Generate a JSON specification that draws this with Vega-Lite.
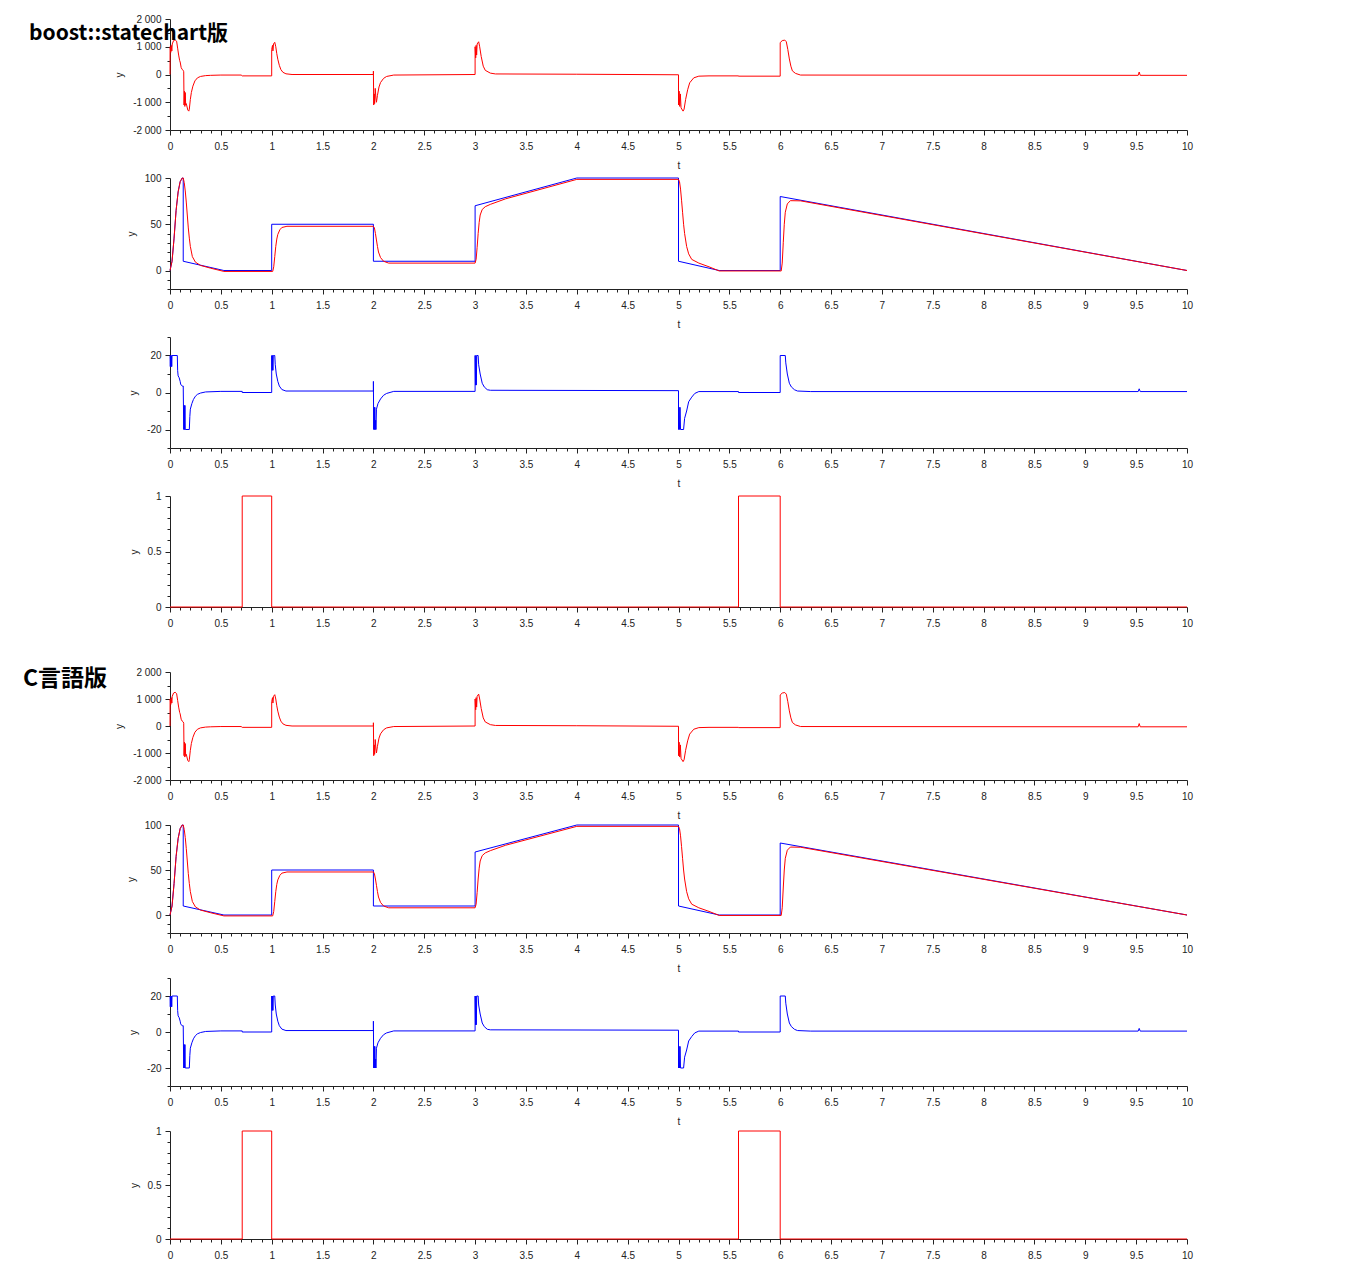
{
  "$schema": "https://vega.github.io/schema/vega-lite/v6.json",
  "padding": {"left": 23, "top": 14, "right": 5, "bottom": 5},
  "background": "white",
  "config": {
    "view": {"stroke": null},
    "axis": {"domainColor": "#222", "tickColor": "#222", "labelColor": "#222", "labelFont": "Liberation Sans", "labelFontSize": 10, "titleFont": "Liberation Sans", "titleFontSize": 10, "titleFontWeight": "normal", "titleColor": "#222", "grid": false, "labelFlush": false, "labelOverlap": false, "domainWidth": 1, "tickWidth": 1},
    "line": {"strokeWidth": 1}
  },
  "datasets": {
    "acc": [
      {"t":0,"v":0},{"t":0.001,"v":1000},{"t":0.008,"v":800},{"t":0.012,"v":1050},{"t":0.018,"v":850},{"t":0.022,"v":1100},{"t":0.035,"v":1220},{"t":0.05,"v":1250},{"t":0.065,"v":1200},{"t":0.075,"v":950},{"t":0.085,"v":700},{"t":0.095,"v":500},{"t":0.1,"v":450},{"t":0.11,"v":250},{"t":0.12,"v":180},{"t":0.13,"v":150},{"t":0.135,"v":100},{"t":0.138,"v":-1100},{"t":0.142,"v":-600},{"t":0.146,"v":-1150},{"t":0.15,"v":-650},{"t":0.154,"v":-1100},{"t":0.16,"v":-1050},{"t":0.175,"v":-1280},{"t":0.185,"v":-1320},{"t":0.19,"v":-1250},{"t":0.2,"v":-900},{"t":0.21,"v":-650},{"t":0.225,"v":-420},{"t":0.245,"v":-230},{"t":0.27,"v":-120},{"t":0.3,"v":-70},{"t":0.35,"v":-40},{"t":0.4,"v":-30},{"t":0.5,"v":-20},{"t":0.7,"v":-20},{"t":0.71,"v":-50},{"t":1.0,"v":-50},
      {"t":1.0,"v":900},{"t":1.008,"v":1050},{"t":1.012,"v":850},{"t":1.018,"v":1100},{"t":1.03,"v":1160},{"t":1.04,"v":1000},{"t":1.05,"v":750},{"t":1.06,"v":550},{"t":1.075,"v":330},{"t":1.09,"v":180},{"t":1.11,"v":80},{"t":1.14,"v":25},{"t":1.2,"v":0},{"t":2.0,"v":0},
      {"t":2.0,"v":120},{"t":2.003,"v":-1100},{"t":2.008,"v":-700},{"t":2.012,"v":-1050},{"t":2.018,"v":-500},{"t":2.025,"v":-850},{"t":2.03,"v":-1000},{"t":2.04,"v":-750},{"t":2.055,"v":-450},{"t":2.07,"v":-290},{"t":2.1,"v":-140},{"t":2.13,"v":-70},{"t":2.2,"v":-20},{"t":3.0,"v":0},
      {"t":3.0,"v":1000},{"t":3.006,"v":600},{"t":3.01,"v":1050},{"t":3.015,"v":700},{"t":3.02,"v":1100},{"t":3.035,"v":1180},{"t":3.045,"v":1000},{"t":3.06,"v":650},{"t":3.08,"v":300},{"t":3.1,"v":150},{"t":3.15,"v":50},{"t":3.2,"v":20},{"t":4.0,"v":10},{"t":5.0,"v":-10},
      {"t":5.0,"v":-1100},{"t":5.006,"v":-600},{"t":5.012,"v":-1150},{"t":5.018,"v":-700},{"t":5.025,"v":-1200},{"t":5.045,"v":-1320},{"t":5.055,"v":-1250},{"t":5.07,"v":-900},{"t":5.09,"v":-550},{"t":5.11,"v":-300},{"t":5.15,"v":-120},{"t":5.2,"v":-60},{"t":5.3,"v":-50},{"t":5.59,"v":-50},{"t":5.59,"v":-60},{"t":6.0,"v":-60},
      {"t":6.0,"v":1150},{"t":6.02,"v":1220},{"t":6.045,"v":1240},{"t":6.06,"v":1180},{"t":6.075,"v":900},{"t":6.09,"v":560},{"t":6.105,"v":300},{"t":6.12,"v":130},{"t":6.15,"v":40},{"t":6.2,"v":-20},{"t":9.52,"v":-30},{"t":9.53,"v":90},{"t":9.54,"v":-30},{"t":10,"v":-30}
    ],
    "posRef": [
      {"t":0,"v":0},{"t":0.02,"v":10},{"t":0.04,"v":35},{"t":0.06,"v":65},{"t":0.08,"v":85},{"t":0.1,"v":96},{"t":0.12,"v":100},{"t":0.13,"v":100},{"t":0.13,"v":10},{"t":0.53,"v":0},{"t":1.0,"v":0},{"t":1.0,"v":50},{"t":2.0,"v":50},{"t":2.0,"v":10},{"t":3.0,"v":10},{"t":3.0,"v":70},{"t":4.0,"v":100},{"t":5.0,"v":100},{"t":5.0,"v":10},{"t":5.4,"v":0},{"t":6.0,"v":0},{"t":6.0,"v":80},{"t":10,"v":0}
    ],
    "posAct": [
      {"t":0,"v":0},{"t":0.02,"v":10},{"t":0.04,"v":35},{"t":0.06,"v":65},{"t":0.08,"v":85},{"t":0.1,"v":96},{"t":0.12,"v":100},{"t":0.13,"v":100},{"t":0.14,"v":95},{"t":0.15,"v":86},{"t":0.16,"v":74},{"t":0.17,"v":60},{"t":0.18,"v":46},{"t":0.19,"v":35},{"t":0.2,"v":26},{"t":0.22,"v":15},{"t":0.25,"v":9},{"t":0.3,"v":5.5},{"t":0.4,"v":2.5},{"t":0.53,"v":-1},{"t":1.01,"v":-1},{"t":1.02,"v":4},{"t":1.03,"v":15},{"t":1.04,"v":26},{"t":1.05,"v":34},{"t":1.06,"v":39},{"t":1.08,"v":44},{"t":1.1,"v":46.5},{"t":1.15,"v":47.8},{"t":2.0,"v":47.8},{"t":2.01,"v":46},{"t":2.02,"v":40},{"t":2.03,"v":33},{"t":2.04,"v":26},{"t":2.05,"v":20},{"t":2.07,"v":14},{"t":2.1,"v":10},{"t":2.15,"v":8},{"t":3.0,"v":8},{"t":3.01,"v":12},{"t":3.02,"v":25},{"t":3.03,"v":40},{"t":3.04,"v":52},{"t":3.05,"v":60},{"t":3.07,"v":66},{"t":3.1,"v":69},{"t":3.15,"v":71.5},{"t":3.3,"v":77.5},{"t":4.0,"v":98.5},{"t":5.0,"v":98.5},{"t":5.01,"v":96},{"t":5.02,"v":88},{"t":5.03,"v":76},{"t":5.04,"v":63},{"t":5.05,"v":50},{"t":5.06,"v":40},{"t":5.08,"v":26},{"t":5.1,"v":18},{"t":5.13,"v":12},{"t":5.2,"v":8},{"t":5.3,"v":4},{"t":5.4,"v":-0.5},{"t":6.01,"v":-0.5},{"t":6.02,"v":8},{"t":6.03,"v":30},{"t":6.04,"v":50},{"t":6.05,"v":63},{"t":6.07,"v":72},{"t":6.1,"v":75.5},{"t":6.2,"v":75.3},{"t":10,"v":0}
    ],
    "vel": [
      {"t":0,"v":20},{"t":0.003,"v":14},{"t":0.006,"v":20},{"t":0.01,"v":14},{"t":0.013,"v":20},{"t":0.017,"v":14},{"t":0.02,"v":20},{"t":0.072,"v":20},{"t":0.075,"v":12},{"t":0.08,"v":9},{"t":0.09,"v":8},{"t":0.1,"v":6},{"t":0.105,"v":4.5},{"t":0.11,"v":4},{"t":0.12,"v":3.5},{"t":0.13,"v":3.5},{"t":0.135,"v":-20},{"t":0.14,"v":-7},{"t":0.143,"v":-20},{"t":0.147,"v":-7},{"t":0.15,"v":-20},{"t":0.19,"v":-20},{"t":0.195,"v":-13},{"t":0.2,"v":-9},{"t":0.215,"v":-6},{"t":0.23,"v":-3.8},{"t":0.25,"v":-2},{"t":0.27,"v":-1},{"t":0.3,"v":-0.3},{"t":0.35,"v":0.3},{"t":0.5,"v":0.6},{"t":0.71,"v":0.6},{"t":0.71,"v":0},{"t":1.0,"v":0},
      {"t":1.0,"v":20},{"t":1.004,"v":12},{"t":1.008,"v":20},{"t":1.012,"v":12},{"t":1.016,"v":20},{"t":1.03,"v":20},{"t":1.035,"v":15},{"t":1.045,"v":10},{"t":1.06,"v":6},{"t":1.075,"v":3.5},{"t":1.1,"v":1.6},{"t":1.14,"v":0.8},{"t":2.0,"v":0.8},
      {"t":2.0,"v":6},{"t":2.003,"v":-20},{"t":2.007,"v":-8},{"t":2.01,"v":-20},{"t":2.014,"v":-8},{"t":2.018,"v":-20},{"t":2.022,"v":-15},{"t":2.025,"v":-20},{"t":2.03,"v":-9},{"t":2.045,"v":-6},{"t":2.07,"v":-3.5},{"t":2.1,"v":-1.5},{"t":2.13,"v":-0.5},{"t":2.2,"v":0.6},{"t":3.0,"v":0.6},
      {"t":3.0,"v":20},{"t":3.004,"v":4},{"t":3.008,"v":20},{"t":3.012,"v":4},{"t":3.016,"v":20},{"t":3.03,"v":20},{"t":3.035,"v":15},{"t":3.05,"v":10},{"t":3.07,"v":5},{"t":3.09,"v":3},{"t":3.12,"v":1.5},{"t":3.15,"v":1.2},{"t":5.0,"v":1.0},
      {"t":5.0,"v":-20},{"t":5.005,"v":-8},{"t":5.01,"v":-20},{"t":5.015,"v":-8},{"t":5.02,"v":-20},{"t":5.05,"v":-20},{"t":5.06,"v":-14},{"t":5.08,"v":-10},{"t":5.1,"v":-5},{"t":5.13,"v":-2.5},{"t":5.16,"v":-0.5},{"t":5.2,"v":0.5},{"t":5.59,"v":0.5},{"t":5.59,"v":0},{"t":6.0,"v":0},
      {"t":6.0,"v":20},{"t":6.05,"v":20},{"t":6.055,"v":16},{"t":6.07,"v":10},{"t":6.09,"v":5},{"t":6.11,"v":3},{"t":6.14,"v":1.5},{"t":6.17,"v":0.8},{"t":6.3,"v":0.5},{"t":9.52,"v":0.5},{"t":9.53,"v":2},{"t":9.54,"v":0.5},{"t":10,"v":0.5}
    ],
    "pulse": [
      {"t":0,"v":0},{"t":0.71,"v":0},{"t":0.71,"v":1},{"t":1.0,"v":1},{"t":1.0,"v":0},{"t":5.59,"v":0},{"t":5.59,"v":1},{"t":6.0,"v":1},{"t":6.0,"v":0},{"t":10,"v":0}
    ]
  },
  "spacing": 39,
  "vconcat": [
    {
      "spacing": 48,
      "bounds": "flush",
      "vconcat": [
        {
          "width": 1017, "height": 111,
          "title": {"text": "boost::statechart版", "anchor": "start", "frame": "group", "orient": "top", "dx": -141, "dy": 34, "fontSize": 21, "font": "Noto Sans CJK JP", "fontWeight": "bold", "color": "#000"},
          "data": {"name": "acc"},
          "mark": {"type": "line", "color": "#ff0000"},
          "encoding": {
            "order": {"value": null},
            "x": {"field": "t", "type": "quantitative", "scale": {"domain": [0, 10], "nice": false}, "axis": {"title": "t", "tickCount": 100, "labelExpr": "abs(datum.value*2-round(datum.value*2))<0.000001 ? format(datum.value,'~g') : ''", "tickSize": {"condition": {"test": "abs(datum.value*2-round(datum.value*2))<0.000001", "value": 5}, "value": 3}, "labelPadding": 6, "titlePadding": 9}},
            "y": {"field": "v", "type": "quantitative", "scale": {"domain": [-2000, 2000], "nice": false, "zero": false}, "axis": {"title": "y", "tickCount": 8, "labelExpr": "datum.value % 1000 == 0 ? (datum.value < 0 ? '-' : '') + replace(format(abs(datum.value), ','), ',', ' ') : ''", "tickSize": {"condition": {"test": "datum.value % 1000 == 0", "value": 5}, "value": 3}, "labelPadding": 4, "titlePadding": 8}}
          }
        },
        {
          "width": 1017, "height": 111,
          "layer": [
            {
              "data": {"name": "posRef"},
              "mark": {"type": "line", "color": "#0000ff"},
              "encoding": {
                "order": {"value": null},
                "x": {"field": "t", "type": "quantitative", "scale": {"domain": [0, 10], "nice": false}, "axis": {"title": "t", "tickCount": 100, "labelExpr": "abs(datum.value*2-round(datum.value*2))<0.000001 ? format(datum.value,'~g') : ''", "tickSize": {"condition": {"test": "abs(datum.value*2-round(datum.value*2))<0.000001", "value": 5}, "value": 3}, "labelPadding": 6, "titlePadding": 9}},
                "y": {"field": "v", "type": "quantitative", "scale": {"domain": [-20, 100], "nice": false, "zero": false}, "axis": {"title": "y", "tickCount": 12, "labelExpr": "datum.value % 50 == 0 ? format(datum.value,'~g') : ''", "tickSize": {"condition": {"test": "datum.value % 50 == 0", "value": 5}, "value": 3}, "labelPadding": 4, "titlePadding": 8}}
              }
            },
            {
              "data": {"name": "posAct"},
              "mark": {"type": "line", "color": "#ff0000"},
              "encoding": {
                "order": {"value": null},
                "x": {"field": "t", "type": "quantitative"},
                "y": {"field": "v", "type": "quantitative"}
              }
            }
          ]
        },
        {
          "width": 1017, "height": 111,
          "data": {"name": "vel"},
          "mark": {"type": "line", "color": "#0000ff"},
          "encoding": {
            "order": {"value": null},
            "x": {"field": "t", "type": "quantitative", "scale": {"domain": [0, 10], "nice": false}, "axis": {"title": "t", "tickCount": 100, "labelExpr": "abs(datum.value*2-round(datum.value*2))<0.000001 ? format(datum.value,'~g') : ''", "tickSize": {"condition": {"test": "abs(datum.value*2-round(datum.value*2))<0.000001", "value": 5}, "value": 3}, "labelPadding": 6, "titlePadding": 9}},
            "y": {"field": "v", "type": "quantitative", "scale": {"domain": [-30, 30], "nice": false, "zero": false}, "axis": {"title": "y", "tickCount": 6, "labelExpr": "datum.value % 20 == 0 ? (datum.value < 0 ? '-' : '') + format(abs(datum.value),'~g') : ''", "tickSize": {"condition": {"test": "datum.value % 20 == 0", "value": 5}, "value": 3}, "labelPadding": 4, "titlePadding": 8}}
          }
        },
        {
          "width": 1017, "height": 111,
          "data": {"name": "pulse"},
          "mark": {"type": "line", "color": "#ff0000"},
          "encoding": {
            "order": {"value": null},
            "x": {"field": "t", "type": "quantitative", "scale": {"domain": [0, 10], "nice": false}, "axis": {"title": null, "tickCount": 100, "labelExpr": "abs(datum.value*2-round(datum.value*2))<0.000001 ? format(datum.value,'~g') : ''", "tickSize": {"condition": {"test": "abs(datum.value*2-round(datum.value*2))<0.000001", "value": 5}, "value": 3}, "labelPadding": 6}},
            "y": {"field": "v", "type": "quantitative", "scale": {"domain": [0, 1], "nice": false, "zero": false}, "axis": {"title": "y", "tickCount": 10, "labelExpr": "abs(datum.value*2-round(datum.value*2))<0.000001 ? format(datum.value,'~g') : ''", "tickSize": {"condition": {"test": "abs(datum.value*2-round(datum.value*2))<0.000001", "value": 5}, "value": 3}, "labelPadding": 4, "titlePadding": 8}}
          }
        }
      ]
    },
    {
      "spacing": 45,
      "bounds": "flush",
      "vconcat": [
        {
          "width": 1017, "height": 108,
          "title": {"text": "C言語版", "anchor": "start", "frame": "group", "orient": "top", "dx": -147, "dy": 28, "fontSize": 23, "font": "Noto Sans CJK JP", "fontWeight": "bold", "color": "#000"},
          "data": {"name": "acc"},
          "mark": {"type": "line", "color": "#ff0000"},
          "encoding": {
            "order": {"value": null},
            "x": {"field": "t", "type": "quantitative", "scale": {"domain": [0, 10], "nice": false}, "axis": {"title": "t", "tickCount": 100, "labelExpr": "abs(datum.value*2-round(datum.value*2))<0.000001 ? format(datum.value,'~g') : ''", "tickSize": {"condition": {"test": "abs(datum.value*2-round(datum.value*2))<0.000001", "value": 5}, "value": 3}, "labelPadding": 6, "titlePadding": 9}},
            "y": {"field": "v", "type": "quantitative", "scale": {"domain": [-2000, 2000], "nice": false, "zero": false}, "axis": {"title": "y", "tickCount": 8, "labelExpr": "datum.value % 1000 == 0 ? (datum.value < 0 ? '-' : '') + replace(format(abs(datum.value), ','), ',', ' ') : ''", "tickSize": {"condition": {"test": "datum.value % 1000 == 0", "value": 5}, "value": 3}, "labelPadding": 4, "titlePadding": 8}}
          }
        },
        {
          "width": 1017, "height": 108,
          "layer": [
            {
              "data": {"name": "posRef"},
              "mark": {"type": "line", "color": "#0000ff"},
              "encoding": {
                "order": {"value": null},
                "x": {"field": "t", "type": "quantitative", "scale": {"domain": [0, 10], "nice": false}, "axis": {"title": "t", "tickCount": 100, "labelExpr": "abs(datum.value*2-round(datum.value*2))<0.000001 ? format(datum.value,'~g') : ''", "tickSize": {"condition": {"test": "abs(datum.value*2-round(datum.value*2))<0.000001", "value": 5}, "value": 3}, "labelPadding": 6, "titlePadding": 9}},
                "y": {"field": "v", "type": "quantitative", "scale": {"domain": [-20, 100], "nice": false, "zero": false}, "axis": {"title": "y", "tickCount": 12, "labelExpr": "datum.value % 50 == 0 ? format(datum.value,'~g') : ''", "tickSize": {"condition": {"test": "datum.value % 50 == 0", "value": 5}, "value": 3}, "labelPadding": 4, "titlePadding": 8}}
              }
            },
            {
              "data": {"name": "posAct"},
              "mark": {"type": "line", "color": "#ff0000"},
              "encoding": {
                "order": {"value": null},
                "x": {"field": "t", "type": "quantitative"},
                "y": {"field": "v", "type": "quantitative"}
              }
            }
          ]
        },
        {
          "width": 1017, "height": 108,
          "data": {"name": "vel"},
          "mark": {"type": "line", "color": "#0000ff"},
          "encoding": {
            "order": {"value": null},
            "x": {"field": "t", "type": "quantitative", "scale": {"domain": [0, 10], "nice": false}, "axis": {"title": "t", "tickCount": 100, "labelExpr": "abs(datum.value*2-round(datum.value*2))<0.000001 ? format(datum.value,'~g') : ''", "tickSize": {"condition": {"test": "abs(datum.value*2-round(datum.value*2))<0.000001", "value": 5}, "value": 3}, "labelPadding": 6, "titlePadding": 9}},
            "y": {"field": "v", "type": "quantitative", "scale": {"domain": [-30, 30], "nice": false, "zero": false}, "axis": {"title": "y", "tickCount": 6, "labelExpr": "datum.value % 20 == 0 ? (datum.value < 0 ? '-' : '') + format(abs(datum.value),'~g') : ''", "tickSize": {"condition": {"test": "datum.value % 20 == 0", "value": 5}, "value": 3}, "labelPadding": 4, "titlePadding": 8}}
          }
        },
        {
          "width": 1017, "height": 108,
          "data": {"name": "pulse"},
          "mark": {"type": "line", "color": "#ff0000"},
          "encoding": {
            "order": {"value": null},
            "x": {"field": "t", "type": "quantitative", "scale": {"domain": [0, 10], "nice": false}, "axis": {"title": null, "tickCount": 100, "labelExpr": "abs(datum.value*2-round(datum.value*2))<0.000001 ? format(datum.value,'~g') : ''", "tickSize": {"condition": {"test": "abs(datum.value*2-round(datum.value*2))<0.000001", "value": 5}, "value": 3}, "labelPadding": 6}},
            "y": {"field": "v", "type": "quantitative", "scale": {"domain": [0, 1], "nice": false, "zero": false}, "axis": {"title": "y", "tickCount": 10, "labelExpr": "abs(datum.value*2-round(datum.value*2))<0.000001 ? format(datum.value,'~g') : ''", "tickSize": {"condition": {"test": "abs(datum.value*2-round(datum.value*2))<0.000001", "value": 5}, "value": 3}, "labelPadding": 4, "titlePadding": 8}}
          }
        }
      ]
    }
  ]
}
